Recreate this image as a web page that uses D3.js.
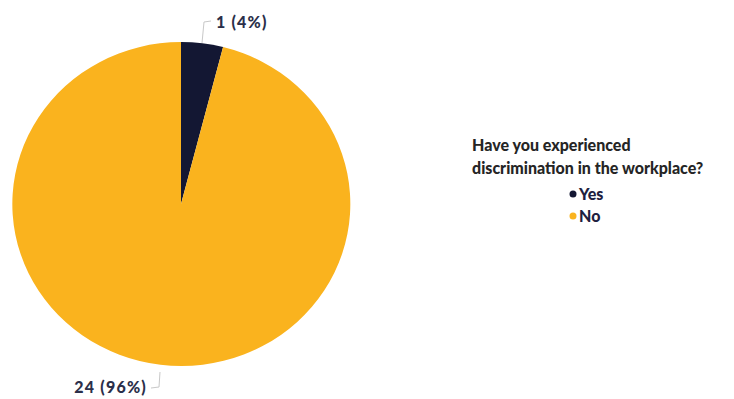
<!DOCTYPE html>
<html>
<head>
<meta charset="utf-8">
<script src="https://cdn.jsdelivr.net/npm/d3@7"></script>
<style>
  body { margin: 0; background: #fff; }
  text { font-family: Lato, "Open Sans", sans-serif; font-weight: 900; }
</style>
</head>
<body>
<div id="chart"></div>
<script>
var categories = ['Yes', 'No'];
var counts = [1, 24];
var colors = ['#131733', '#FAB31E'];
var legendTitle = ['Have you experienced', 'discrimination in the workplace?'];

var W = 734, H = 399;
var cx = 181, cy = 204; // центр круга
var rx = 169, ry = 162; // картинка немного растянута

var svg = d3.select('#chart').append('svg')
  .attr('width', W).attr('height', H);

var total = d3.sum(counts);
var pie = d3.pie().sort(null).value(function(d) { return d; });
var arcs = pie(counts);
var arc = d3.arc().innerRadius(0).outerRadius(1);

var g = svg.append('g')
  .attr('transform', 'translate(' + cx + ',' + cy + ') scale(' + rx + ',' + ry + ')');

g.selectAll('path').data(arcs).enter().append('path')
  .attr('d', arc)
  .attr('fill', function(d, i) { return colors[i]; });

// подписи с выносками
function labelText(i) {
  return counts[i] + ' (' + Math.round(counts[i] / total * 100) + '%)';
}

// Yes - вверх
var p0 = [cx + 21, cy - ry + 1];
svg.append('path')
  .attr('d', 'M' + p0[0] + ' ' + p0[1] + 'L' + (p0[0] + 2) + ' ' + 22 + 'L' + (p0[0] + 9) + ' ' + 21)
  .attr('fill', 'none').attr('stroke', '#c8c8c8').attr('stroke-width', 1);
svg.append('text')
  .attr('x', p0[0] + 14).attr('y', 28)
  .attr('font-size', 16).attr('letter-spacing', 1.2).attr('fill', '#2b2f4a')
  .text(labelText(0));

// No - вниз
var p1 = [cx - 21, cy + ry + 6];
svg.append('path')
  .attr('d', 'M' + p1[0] + ' ' + p1[1] + 'L' + (p1[0] - 1) + ' ' + 387 + 'L' + (p1[0] - 9) + ' ' + 388)
  .attr('fill', 'none').attr('stroke', '#c8c8c8').attr('stroke-width', 1);
svg.append('text')
  .attr('x', p1[0] - 13).attr('y', 393)
  .attr('text-anchor', 'end')
  .attr('font-size', 16).attr('letter-spacing', 1.2).attr('fill', '#2b2f4a')
  .text(labelText(1));

// легенда
var lg = svg.append('g').attr('transform', 'translate(472,0)');
lg.selectAll('text.title').data(legendTitle).enter().append('text')
  .attr('class', 'title')
  .attr('x', 0).attr('y', function(d, i) { return 151 + i * 23; })
  .attr('font-size', 16).attr('fill', '#252525')
  .text(function(d) { return d; });

var items = lg.selectAll('g.item').data(categories).enter().append('g')
  .attr('class', 'item')
  .attr('transform', function(d, i) { return 'translate(101,' + (194 + i * 22) + ')'; });
items.append('circle')
  .attr('cx', 0).attr('cy', 0).attr('r', 3.5)
  .attr('fill', function(d, i) { return colors[i]; });
items.append('text')
  .attr('x', 6).attr('y', 6)
  .attr('font-size', 16).attr('fill', '#1e2140')
  .text(function(d) { return d; });
</script>
</body>
</html>
